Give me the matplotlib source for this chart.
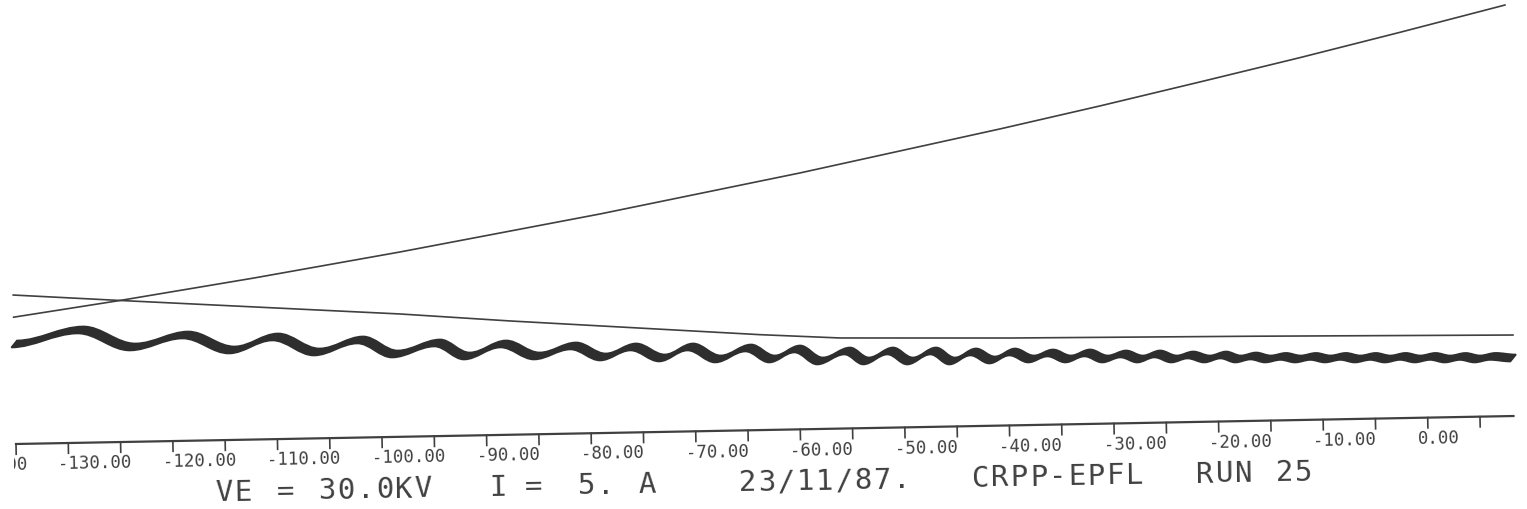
import numpy as np
import matplotlib
matplotlib.use('Agg')
import matplotlib.pyplot as plt
from matplotlib.path import Path
from matplotlib.patches import PathPatch
from matplotlib.transforms import Affine2D, Bbox, TransformedBbox

# position le long de l'axe (cm) et niveaux en unites arbitraires
z_champ = [-140.0, -129.8, -117.05, -102.95, -83.76, -64.57, -45.37, -35.77, -26.17,
           -16.57, -6.96, 3.12]
champ = [28.5, 31.81, 36.26, 41.53, 49.23, 57.61, 66.66, 71.41, 76.38,
         81.42, 86.69, 92.38]

z_pot = [-140.0, -129.8, -103.05, -92.56, -68.68, -61.03, -44.79, -21.84, 3.30]
pot = [33.48, 31.81, 27.60, 25.57, 21.44, 20.36, 19.64, 19.03, 18.20]

# extrema successifs de l'enveloppe du faisceau
z_ext = [-140.0, -133.68, -128.64, -123.65, -119.18, -115.05, -111.06, -106.93, -103.60,
         -99.57, -96.73, -93.26, -90.03, -86.57, -83.72, -80.83, -78.08, -75.38, -72.73,
         -69.84, -67.57, -65.16, -62.98, -60.38, -58.58, -56.27, -54.38, -52.16, -50.36,
         -48.34, -46.53, -44.61, -42.80, -40.98, -39.26, -37.44, -35.73, -34.00, -32.38,
         -30.75, -29.13, -27.59, -25.97, -24.44, -23.01, -21.58, -20.15, -18.72, -17.29,
         -15.86, -14.43, -13.00, -11.57, -10.14, -8.71, -7.28, -5.85, -4.42, -2.99,
         -1.56, -0.13, 1.30, 3.28]
y_ext = [22.47, 25.35, 21.31, 23.78, 20.22, 22.96, 19.41, 21.93, 18.63,
         20.93, 17.88, 20.43, 17.59, 19.69, 17.09, 19.21, 16.62, 18.97, 16.16,
         18.50, 15.93, 18.07, 15.28, 17.41, 15.09, 17.23, 14.90, 17.05, 14.72,
         16.66, 14.78, 16.49, 14.84, 16.11, 14.69, 15.96, 14.53, 15.58, 14.38,
         15.44, 14.24, 15.07, 14.10, 14.93, 13.97, 14.58, 13.85, 14.36, 13.72,
         14.23, 13.60, 14.11, 13.47, 13.98, 13.34, 13.86, 13.22, 13.73, 13.09,
         13.60, 12.97, 13.48, 13.04]

axe_z = [-140.0, 3.2]
ticks = np.arange(-140, 1, 5)
tick_labels = np.arange(-140, 1, 10)

legende = [("VE", -121.05), ("=", -115.13), ("30.0KV", -111.2), ("I", -94.86),
           ("=", -91.42), ("5.", -86.35), ("A", -80.6), ("23/11/87.", -70.96),
           ("CRPP-EPFL", -48.68), ("RUN", -27.23), ("25", -19.6)]

encre = '#404040'
police = 'DejaVu Sans Mono'


def chemin_oscillant(xs, ys):
    # demi-periodes en courbes de Bezier, tangentes horizontales aux extrema
    verts = [(xs[0], ys[0])]
    codes = [Path.MOVETO]
    for i in range(1, len(xs)):
        x0, y0, x1, y1 = xs[i - 1], ys[i - 1], xs[i], ys[i]
        dx = x1 - x0
        verts += [(x0 + 0.3642 * dx, y0), (x1 - 0.3642 * dx, y1), (x1, y1)]
        codes += [Path.CURVE4] * 3
    return Path(verts, codes)


fig = plt.figure(figsize=(15.27, 5.10), dpi=100)
ax = fig.add_axes([0, 0, 1, 1])
ax.set_xlim(-141.53, 4.47)
ax.set_ylim(-14.61, 100.0)
ax.axis('off')

# la feuille du traceur est legerement de travers
angle = 1.07
rot = Affine2D().rotate_deg_around(16, 65, angle)
tr = ax.transData + rot

# bord gauche de la feuille
feuille = TransformedBbox(Bbox([[14 / 1527, 0], [1, 1]]), fig.transFigure)

ax.plot(z_champ, champ, color=encre, lw=1.2, transform=tr)
ax.plot(z_pot, pot, color=encre, lw=1.2, transform=tr)

# ruban du faisceau: deux bords decales
centre = chemin_oscillant(z_ext, y_ext)
h, d = 0.55, 1.55
bas = Affine2D().translate(-h / 2, -d / 2).transform_path(centre)
haut = Affine2D().translate(h / 2, d / 2).transform_path(centre)
n = len(bas.vertices)
verts = np.vstack([bas.vertices, haut.vertices[::-1], bas.vertices[:1]])
codes = ([Path.MOVETO] + [Path.CURVE4] * (n - 1) + [Path.LINETO]
         + [Path.CURVE4] * (n - 1) + [Path.CLOSEPOLY])
ruban = Path(verts, codes)
ax.add_patch(PathPatch(ruban, facecolor='#2e2e2e', edgecolor='#2e2e2e', lw=1.2, transform=tr))

# axe z
ax.plot(axe_z, [0, 0], color=encre, lw=1.6, transform=tr)
for t in ticks:
    ax.plot([t, t], [0, -2.3], color=encre, lw=1.2, transform=tr)
for v in tick_labels:
    txt = ax.text(v - 6.0, -4.5, f"{v:.2f}", ha='left', va='center', fontsize=12.5,
                  family=police, color=encre, rotation=angle, rotation_mode='anchor',
                  transform=tr)
    txt.set_clip_box(feuille)
    txt.set_clip_on(True)

# ligne de parametres du tir
pas = 1.84
for mot, z0 in legende:
    for i, c in enumerate(mot):
        ax.text(z0 + i * pas, -11.6, c, ha='left', va='center', fontsize=21,
                family=police, color=encre, rotation=angle, rotation_mode='anchor',
                transform=tr)

fig.savefig('out.png', dpi=100, facecolor='white')
